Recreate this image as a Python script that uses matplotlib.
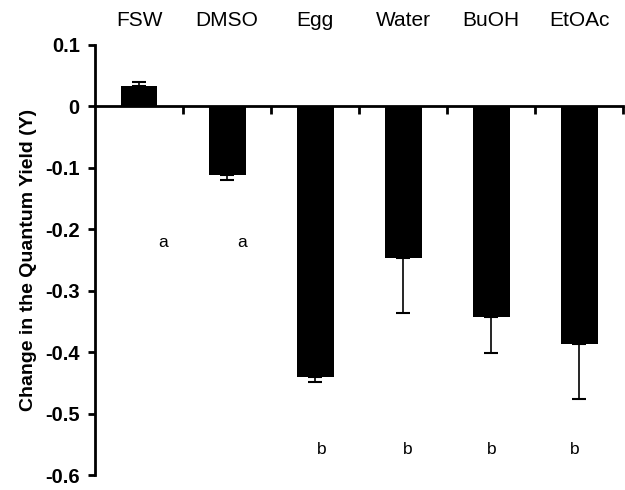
import matplotlib
matplotlib.use("Agg")
import matplotlib.pyplot as plt
import numpy as np

categories = ["FSW", "DMSO", "Egg", "Water", "BuOH", "EtOAc"]
values = [0.033, -0.112, -0.440, -0.246, -0.342, -0.386]
errors = [0.007, 0.007, 0.008, 0.090, 0.059, 0.090]
letters = ["a", "a", "b", "b", "b", "b"]
letter_x = [0.27, 1.17, 2.08, 3.05, 4.01, 4.95]
letter_y = [-0.222, -0.222, -0.558, -0.558, -0.558, -0.558]

plt.rcParams['font.family'] = ['Liberation Sans', 'DejaVu Sans']

fig = plt.figure(figsize=(6.25, 4.9), dpi=100)
ax = fig.add_axes([0.152, 0.0306, 0.845, 0.8776])

x = np.arange(len(categories))
ax.bar(x, values, width=0.42, color='black', zorder=2)
for xi, v, e in zip(x, values, errors):
    sign = 1 if v >= 0 else -1
    ax.errorbar([xi], [v], yerr=[[0] if sign > 0 else [e], [e] if sign > 0 else [0]],
                fmt='none', ecolor='black', elinewidth=1.2, capsize=5, capthick=1.5, zorder=3)

ax.set_xlim(-0.5, 5.5)
ax.set_ylim(-0.6, 0.1)
ax.spines['top'].set_visible(False)
ax.spines['right'].set_visible(False)
ax.spines['bottom'].set_position(('data', 0))
ax.spines['bottom'].set_linewidth(2)
ax.spines['left'].set_linewidth(2)
ax.spines['bottom'].set_zorder(4)

ax.set_xticks(np.arange(0.5, 6, 1))
ax.set_xticklabels([])
ax.tick_params(axis='x', direction='out', length=6, width=2)
ax.set_yticks([0.1, 0, -0.1, -0.2, -0.3, -0.4, -0.5, -0.6])
ax.set_yticklabels(["0.1", "0", "-0.1", "-0.2", "-0.3", "-0.4", "-0.5", "-0.6"],
                   fontsize=14.5, fontweight='bold')
ax.tick_params(axis='y', direction='out', length=5, width=2, pad=6)

for xi, c in zip(x, categories):
    ax.text(xi, 1.058, c, transform=ax.get_xaxis_transform(), ha='center', va='center', fontsize=15)

for lx, ly, t in zip(letter_x, letter_y, letters):
    ax.text(lx, ly, t, ha='center', va='center', fontsize=12.5)

ax.set_ylabel("Change in the Quantum Yield (Y)", fontsize=14, fontweight='bold', labelpad=6)

fig.savefig("out.png", dpi=100)
